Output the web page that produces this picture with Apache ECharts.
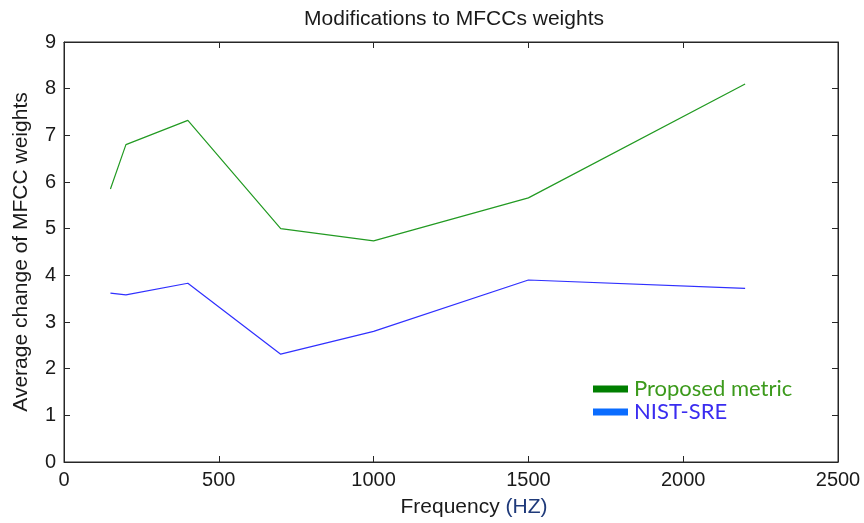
<!DOCTYPE html>
<html>
<head>
<meta charset="utf-8">
<script src="https://cdn.jsdelivr.net/npm/echarts@6/dist/echarts.min.js"></script>
<style>
  html, body { margin: 0; padding: 0; background: #fff; }
  #main { width: 864px; height: 523px; }
</style>
</head>
<body>
<div id="main"></div>
<script>
// frequency points (Hz)
const freqs = [150, 200, 400, 700, 1000, 1500, 2200]
// average change of MFCC weights
const proposed = [5.85, 6.8, 7.32, 5.0, 4.74, 5.66, 8.1]
const nistSre = [3.62, 3.58, 3.83, 2.31, 2.8, 3.9, 3.72]
// axis ticks
const xTicks = [0, 500, 1000, 1500, 2000, 2500]
const yTicks = [0, 1, 2, 3, 4, 5, 6, 7, 8, 9]

const toPairs = (xs, ys) => xs.map((x, i) => [x, ys[i]])

const INK = '#262626'
const mkAxis = (extra) => Object.assign({
    type: 'value',
    axisLine: { show: true, onZero: false, lineStyle: { color: INK, width: 1 } },
    axisTick: { show: true, inside: true, length: 6, lineStyle: { color: INK, width: 1 } },
    splitLine: { show: false }
}, extra)

const option = {
    animation: false,
    title: {
        text: 'Modifications to MFCCs weights',
        left: 449,
        top: 4,
        textAlign: 'center',
        textStyle: { fontFamily: 'Liberation Sans', fontWeight: 'normal', fontSize: 21, color: '#1a1a1a' }
    },
    grid: { left: 64, right: 26, top: 42, bottom: 61, show: true, borderColor: INK, borderWidth: 1, backgroundColor: 'transparent' },
    legend: {
        orient: 'vertical',
        left: 588,
        top: 373,
        itemWidth: 35,
        itemHeight: 7,
        itemGap: 1,
        icon: 'rect',
        textStyle: { fontFamily: 'Lato', fontSize: 22, padding: [0, 0, 0, 1] },
        data: [
            { name: 'Proposed metric', itemStyle: { color: '#007f00' }, textStyle: { color: '#3c9a1c' } },
            { name: 'NIST-SRE', itemStyle: { color: '#0a6cff' }, textStyle: { color: '#3a2cf0' } }
        ]
    },
    xAxis: [
        mkAxis({
            min: xTicks[0], max: xTicks[xTicks.length - 1], interval: xTicks[1] - xTicks[0],
            name: 'Frequency {hz|(HZ)}', nameLocation: 'middle', nameGap: 35,
            nameTextStyle: {
                fontFamily: 'Liberation Sans', fontSize: 21, color: '#1a1a1a', padding: [0, 0, 0, 46],
                rich: { hz: { fontFamily: 'Liberation Sans', fontSize: 21, color: '#1f3a7a' } }
            },
            axisLabel: { margin: 8, fontFamily: 'Liberation Sans', fontSize: 20, color: '#1a1a1a', formatter: v => String(v) }
        }),
        mkAxis({
            position: 'top',
            min: xTicks[0], max: xTicks[xTicks.length - 1], interval: xTicks[1] - xTicks[0],
            axisLabel: { show: false }
        })
    ],
    yAxis: [
        mkAxis({
            min: yTicks[0], max: yTicks[yTicks.length - 1], interval: yTicks[1] - yTicks[0],
            name: 'Average change of MFCC weights', nameLocation: 'middle', nameGap: 32,
            nameTextStyle: { fontFamily: 'Liberation Sans', fontSize: 21, color: '#1a1a1a' },
            axisLabel: { margin: 8, fontFamily: 'Liberation Sans', fontSize: 20, color: '#1a1a1a' }
        }),
        mkAxis({
            position: 'right',
            min: yTicks[0], max: yTicks[yTicks.length - 1], interval: yTicks[1] - yTicks[0],
            axisLabel: { show: false }
        })
    ],
    series: [
        {
            name: 'Proposed metric', type: 'line', symbol: 'none',
            lineStyle: { color: '#229a22', width: 1.2 },
            itemStyle: { color: '#007f00' },
            data: toPairs(freqs, proposed)
        },
        {
            name: 'NIST-SRE', type: 'line', symbol: 'none',
            lineStyle: { color: '#3030ff', width: 1.2 },
            itemStyle: { color: '#0a6cff' },
            data: toPairs(freqs, nistSre)
        }
    ]
}

const myChart = echarts.init(document.getElementById('main'))
myChart.setOption(option)
</script>
</body>
</html>
